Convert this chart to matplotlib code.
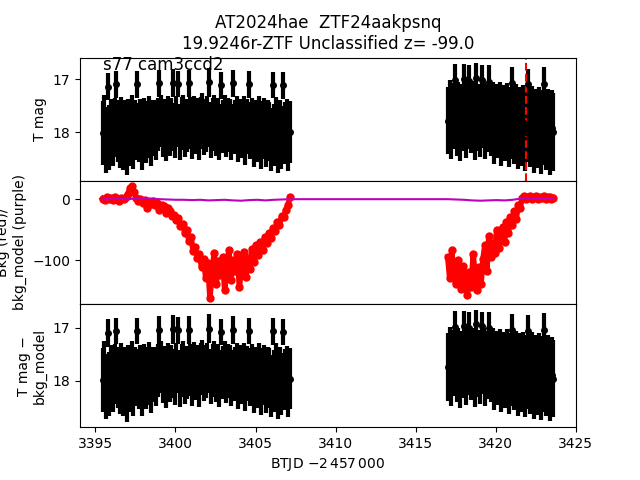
# light curve + background check plot for one TESS sector

import numpy as np
import matplotlib.pyplot as plt

# time limits of the two orbits (BTJD)
seg1 = (3395.45, 3407.15)
seg2 = (3417.0, 3423.6)
t_flag = 3421.9

# T mag, orbit 1
mag1 = [
18.02, 17.86, 18.15, 17.14, 18.10, 17.95, 18.04, 17.91, 17.10, 17.98,
18.07, 17.88, 18.12, 17.97, 18.20, 17.93, 18.05, 17.84, 18.11, 17.96,
17.10, 18.01, 17.90, 18.14, 17.87, 18.03, 17.95, 17.82, 18.09, 17.92,
17.92, 17.99, 17.85, 17.08, 17.78, 17.94, 17.89, 18.02, 17.81, 17.93,
17.86, 17.07, 17.97, 17.80, 17.09, 18.00, 17.84, 17.76, 17.95, 17.88,
17.08, 17.83, 17.98, 17.79, 17.90, 17.86, 18.01, 17.82, 17.74, 17.92,
17.87, 17.80, 17.06, 17.96, 17.85, 17.78, 17.93, 17.84, 18.00, 17.12,
17.89, 17.76, 17.94, 17.86, 17.87, 17.99, 17.08, 17.91, 17.80, 18.03,
17.88, 17.95, 17.82, 18.06, 17.90, 17.10, 17.97, 17.86, 18.09, 17.93,
18.01, 17.84, 18.12, 17.96, 17.89, 18.08, 17.95, 17.99, 18.14, 17.11,
18.05, 17.88, 18.16, 17.97, 18.10, 17.12, 18.02, 17.94, 18.13, 18.00,
]
err1 = [
0.60, 0.57, 0.62, 0.26, 0.61, 0.58, 0.59, 0.56, 0.25, 0.58,
0.60, 0.55, 0.59, 0.57, 0.61, 0.56, 0.58, 0.54, 0.59, 0.56,
0.25, 0.56, 0.53, 0.57, 0.52, 0.55, 0.54, 0.51, 0.55, 0.52,
0.52, 0.53, 0.50, 0.26, 0.49, 0.52, 0.51, 0.53, 0.49, 0.51,
0.50, 0.27, 0.52, 0.48, 0.25, 0.53, 0.50, 0.47, 0.52, 0.50,
0.26, 0.49, 0.53, 0.48, 0.51, 0.50, 0.52, 0.49, 0.47, 0.51,
0.50, 0.48, 0.27, 0.52, 0.50, 0.48, 0.51, 0.49, 0.53, 0.25,
0.50, 0.47, 0.52, 0.51, 0.50, 0.53, 0.26, 0.51, 0.48, 0.54,
0.51, 0.53, 0.50, 0.55, 0.52, 0.25, 0.54, 0.51, 0.56, 0.53,
0.55, 0.52, 0.57, 0.54, 0.53, 0.57, 0.55, 0.56, 0.59, 0.25,
0.58, 0.55, 0.60, 0.57, 0.59, 0.25, 0.58, 0.56, 0.60, 0.58,
]

# T mag, orbit 2
mag2 = [
17.78, 17.62, 17.85, 17.70, 17.02, 17.80, 17.66, 17.88, 17.73, 17.00,
17.83, 17.69, 17.04, 17.76, 17.64, 17.86, 16.98, 17.72, 17.81, 17.01,
17.67, 17.84, 17.74, 17.05, 17.79, 17.68, 17.90, 17.75, 17.82, 17.70,
17.93, 17.78, 17.86, 17.72, 17.95, 17.83, 17.08, 17.89, 17.77, 17.98,
17.84, 17.92, 17.80, 18.00, 17.87, 17.10, 17.94, 17.82, 18.02, 17.89,
17.96, 17.85, 18.04, 17.91, 17.09, 17.98, 17.88, 18.05, 17.93, 18.00,
]
err2 = [
0.64, 0.60, 0.66, 0.62, 0.30, 0.65, 0.61, 0.67, 0.63, 0.28,
0.66, 0.62, 0.30, 0.64, 0.60, 0.67, 0.28, 0.63, 0.66, 0.27,
0.62, 0.67, 0.64, 0.31, 0.66, 0.63, 0.69, 0.65, 0.67, 0.64,
0.70, 0.66, 0.69, 0.65, 0.71, 0.68, 0.30, 0.70, 0.67, 0.72,
0.69, 0.71, 0.68, 0.73, 0.70, 0.30, 0.72, 0.69, 0.74, 0.71,
0.72, 0.70, 0.74, 0.71, 0.32, 0.73, 0.70, 0.75, 0.72, 0.73,
]

# background flux, orbit 1 and 2
bkg1 = [
1, -2, 3, 0, 2, -1, 4, 1, -3, 2, 0, 3,
8, 18, 21, 12,
2, -3, 1, -6, -2, -14, -4, -8, -3,
-10, -6, -18, -9, -12, -22, -14, -19, -28,
-26, -35, -31, -44, -40, -55, -50,
-68, -62, -85, -78, -96, -90,
-112, -98, -130, -105, -163, -120, -88, -140, -102, -125, -95, -150,
-110, -84, -132, -100, -118, -90, -145, -108, -86, -128, -97, -115,
-82, -104, -76, -92, -70, -84, -62, -72, -55, -64, -48, -52, -38, -42,
-28, -30, -18, -10, 3,
]
bkg2 = [
-95, -130, -84, -118, -140, -100, -125, -148, -110,
-135, -158, -120, -145, -90, -128, -150,
-112, -140, -98, -75, -118,
-60, -95, -72, -88, -50, -80, -62,
-45, -70, -38, -55, -30, -42,
-20, -32, -10, -15,
2, 5, 0, 4, 6, 1, 3, 5, 0, 4, 2, 6, 1, 3, 4, 0, 2,
]

# background model
bkg_model1 = [0, 0, 0.5, 0, 1, 2, 1, 0, -0.5, -1, -1, -1.5,
              -1, -2, -1.5, -1, -2, -2.5, -1.5, -1, -2, -1, -0.5, 0]
bkg_model2 = [0, -0.5, -1, -2, -2.5, -2, -1.5, -2, -1, 1, 1, 0.5, 1, 0.5]

# mag shift after removing bkg_model
mag_shift = -0.04

#-----------------------------------

t1 = np.linspace(seg1[0], seg1[1], len(mag1))
t2 = np.linspace(seg2[0], seg2[1], len(mag2))
tb1 = np.linspace(seg1[0], seg1[1], len(bkg1))
tb2 = np.linspace(seg2[0], seg2[1], len(bkg2))
tm = np.concatenate([np.linspace(seg1[0], seg1[1], len(bkg_model1)),
                     np.linspace(seg2[0], seg2[1], len(bkg_model2))])
model = np.concatenate([bkg_model1, bkg_model2])

t = np.concatenate([t1, t2])
mag = np.concatenate([mag1, mag2])
err = np.concatenate([err1, err2])

fig, axs = plt.subplots(3, 1, sharex=True, figsize=(6.4, 4.8))
fig.subplots_adjust(hspace=0)

ax = axs[0]
ax.errorbar(t, mag, yerr=err, fmt='o', color='k', ms=4, elinewidth=3)
ax.axvline(t_flag, color='r', ls='--')
ax.invert_yaxis()
ax.set_ylabel('T mag')
ax.set_title('AT2024hae  ZTF24aakpsnq\n19.9246r-ZTF Unclassified z= -99.0')
ax.text(0.046, 0.9, 's77 cam3ccd2', transform=ax.transAxes, fontsize=12)

ax = axs[1]
ax.plot(tb1, bkg1, 'o-', color='r', ms=5, lw=4)
ax.plot(tb2, bkg2, 'o-', color='r', ms=5, lw=4)
ax.plot(tm, model, '-', color='m', lw=1.5)
ax.set_ylabel('Bkg (red)/\nbkg_model (purple)')

ax = axs[2]
ax.errorbar(t, mag + mag_shift, yerr=err, fmt='o', color='k', ms=4, elinewidth=3)
ax.invert_yaxis()
ax.set_ylabel('T mag \u2212\nbkg_model')
ax.set_xlabel(r'BTJD $-2\,457\,000$')

plt.savefig('out.png', dpi=100)
